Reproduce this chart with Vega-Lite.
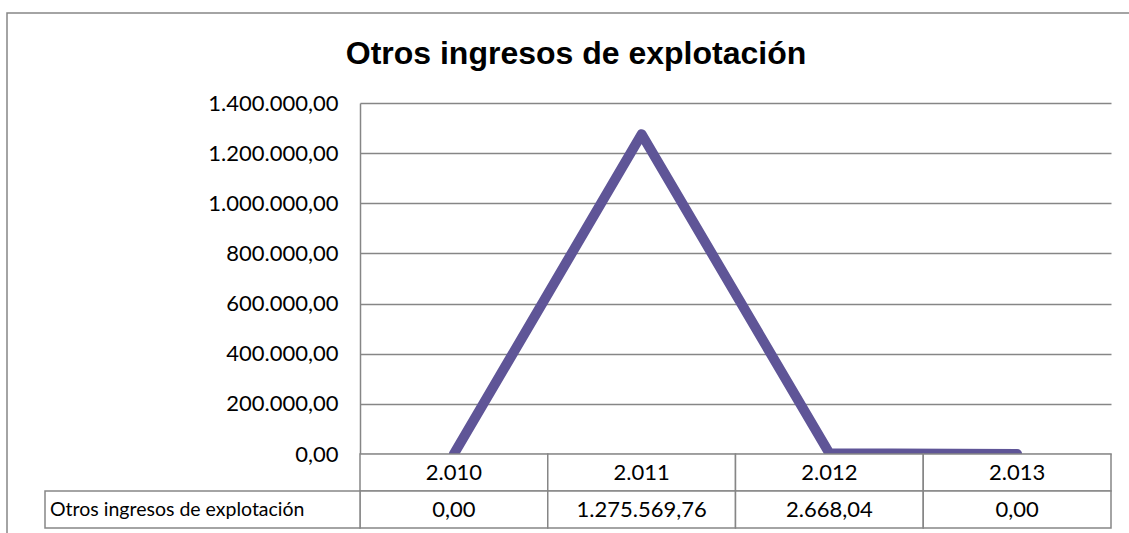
{
  "$schema": "https://vega.github.io/schema/vega-lite/v6.json",
  "width": 1124,
  "height": 522,
  "padding": {"left": 7, "top": 13, "right": -2, "bottom": -2},
  "autosize": {"type": "none"},
  "background": "white",
  "config": {
    "locale": {"number": {"decimal": ",", "thousands": ".", "grouping": [3], "currency": ["", " €"]}},
    "view": {"stroke": "#868686", "strokeWidth": 1.5}
  },
  "title": {
    "text": "Otros ingresos de explotación",
    "font": "Liberation Sans",
    "fontSize": 32,
    "fontWeight": "bold",
    "color": "black",
    "anchor": "middle",
    "frame": "group",
    "offset": -58,
    "dx": 7
  },
  "datasets": {
    "serie": [
      {"anio": "2.010", "valor": 0},
      {"anio": "2.011", "valor": 1275569.76},
      {"anio": "2.012", "valor": 2668.04},
      {"anio": "2.013", "valor": 0}
    ],
    "etiqueta": [{"serie": "Otros ingresos de explotación"}]
  },
  "layer": [
    {
      "data": {"name": "serie"},
      "mark": {"type": "line", "color": "#5F5597", "strokeWidth": 10, "strokeCap": "round", "strokeJoin": "round"},
      "encoding": {
        "x": {"field": "anio", "type": "ordinal", "sort": null, "bandPosition": 0.5,
              "scale": {"type": "band", "range": [353, 1104], "paddingInner": 0, "paddingOuter": 0}, "axis": null},
        "y": {"field": "valor", "type": "quantitative",
              "scale": {"domain": [0, 1400000], "range": [441, 90], "nice": false, "zero": true},
              "axis": {"orient": "left", "offset": -353, "values": [0, 200000, 400000, 600000, 800000, 1000000, 1200000, 1400000],
                       "format": ",.2f", "grid": true, "gridColor": "#868686", "gridWidth": 1.5,
                       "domainColor": "#868686", "domainWidth": 1.5, "ticks": false, "tickSize": 0,
                       "labelPadding": 22, "labelFont": "Lato", "labelFontSize": 22, "labelColor": "black", "title": null}}
      }
    },
    {
      "data": {"name": "serie"},
      "layer": [
        {
          "mark": {"type": "rect", "fill": "white", "stroke": "#868686", "strokeWidth": 1.5},
          "encoding": {
            "x": {"field": "anio", "type": "ordinal", "sort": null,
                  "scale": {"type": "band", "range": [353, 1104], "paddingInner": 0, "paddingOuter": 0}, "axis": null},
            "y": {"datum": "cabecera", "type": "nominal",
                  "scale": {"type": "band", "domain": ["cabecera", "valores"], "range": [441, 515], "paddingInner": 0, "paddingOuter": 0}, "axis": null}
          }
        },
        {
          "mark": {"type": "rect", "fill": "white", "stroke": "#868686", "strokeWidth": 1.5},
          "encoding": {
            "x": {"field": "anio", "type": "ordinal", "sort": null},
            "y": {"datum": "valores", "type": "nominal"}
          }
        },
        {
          "mark": {"type": "text", "font": "Lato", "fontSize": 22, "color": "black", "baseline": "middle", "align": "center"},
          "encoding": {
            "x": {"field": "anio", "type": "ordinal", "sort": null, "bandPosition": 0.5},
            "y": {"datum": "cabecera", "type": "nominal", "bandPosition": 0.5},
            "text": {"field": "anio", "type": "nominal"}
          }
        },
        {
          "mark": {"type": "text", "font": "Lato", "fontSize": 22, "color": "black", "baseline": "middle", "align": "center"},
          "encoding": {
            "x": {"field": "anio", "type": "ordinal", "sort": null, "bandPosition": 0.5},
            "y": {"datum": "valores", "type": "nominal", "bandPosition": 0.5},
            "text": {"field": "valor", "type": "quantitative", "format": ",.2f"}
          }
        }
      ]
    },
    {
      "data": {"name": "etiqueta"},
      "layer": [
        {
          "mark": {"type": "rect", "fill": "white", "stroke": "#868686", "strokeWidth": 1.5},
          "encoding": {
            "x": {"field": "serie", "type": "nominal",
                  "scale": {"type": "band", "range": [38, 353], "paddingInner": 0, "paddingOuter": 0}, "axis": null},
            "y": {"datum": "valores", "type": "nominal",
                  "scale": {"type": "band", "domain": ["cabecera", "valores"], "range": [441, 515], "paddingInner": 0, "paddingOuter": 0}, "axis": null}
          }
        },
        {
          "mark": {"type": "text", "font": "Lato", "fontSize": 19.5, "color": "black", "baseline": "middle", "align": "left", "dx": 5},
          "encoding": {
            "x": {"field": "serie", "type": "nominal", "bandPosition": 0},
            "y": {"datum": "valores", "type": "nominal", "bandPosition": 0.5},
            "text": {"field": "serie", "type": "nominal"}
          }
        }
      ]
    }
  ],
  "resolve": {"scale": {"x": "independent", "y": "independent"}}
}
